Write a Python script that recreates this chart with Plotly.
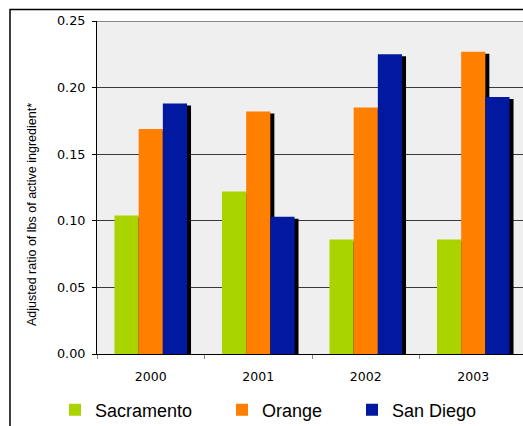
import plotly.graph_objects as go

# Adjusted pesticide-use ratio by county and year
years = ["2000", "2001", "2002", "2003"]
counties = ["Sacramento", "Orange", "San Diego"]
sacramento = [0.104, 0.122, 0.086, 0.086]
orange = [0.169, 0.182, 0.185, 0.227]
san_diego = [0.188, 0.103, 0.225, 0.193]
y_ticks = [0.00, 0.05, 0.10, 0.15, 0.20, 0.25]

colors = ["#AAD400", "#FF7F00", "#0019A0"]
series = [sacramento, orange, san_diego]
legends = ["legend", "legend2", "legend3"]

W, H = 523, 426
ML, MR, MT, MB = 97, 0, 21, 72
band_px = 107.5
plot_w = W - ML - MR
plot_h = H - MT - MB

bar_w = 0.225
offsets = [-0.3375, -0.1125, 0.1125]
shadow_dx = 4 / band_px
shadow_dy = 2 * 0.25 / plot_h

fig = go.Figure()
for name, vals, col, off, lg in zip(counties, series, colors, offsets, legends):
    # drop shadow behind each bar
    fig.add_trace(go.Bar(
        x=years, y=[v - shadow_dy for v in vals], width=bar_w,
        offset=off + shadow_dx, marker=dict(color="#000000", line=dict(width=0)),
        showlegend=False, hoverinfo="skip",
    ))
    fig.add_trace(go.Bar(
        x=years, y=vals, name=name, width=bar_w, offset=off,
        marker=dict(color=col, line=dict(width=0)), legend=lg,
    ))


def px_x(p):
    return (p - ML) / plot_w


def px_y(p):
    return (H - MB - p) / plot_h


legend_style = dict(
    orientation="h", yanchor="middle", xanchor="left",
    bgcolor="rgba(0,0,0,0)",
    font=dict(family="Liberation Sans, Arial, sans-serif", size=18, color="#000000"),
)
legend_x = [55, 222, 352]
legend_y = 410

fig.update_layout(
    width=W, height=H,
    margin=dict(l=ML, r=MR, t=MT, b=MB, pad=0, autoexpand=False),
    paper_bgcolor="#FFFFFF", plot_bgcolor="#EFEFEF",
    barmode="overlay",
    legend=dict(x=px_x(legend_x[0]), y=px_y(legend_y), **legend_style),
    legend2=dict(x=px_x(legend_x[1]), y=px_y(legend_y), **legend_style),
    legend3=dict(x=px_x(legend_x[2]), y=px_y(legend_y), **legend_style),
    xaxis=dict(
        type="category", categoryorder="array", categoryarray=years,
        range=[-0.5, -0.5 + plot_w / band_px],
        tickson="boundaries", ticks="outside", ticklen=4, tickcolor="#888888",
        showline=True, linecolor="#000000", linewidth=1, showgrid=False,
        tickfont=dict(family="DejaVu Sans, Verdana, sans-serif", size=12.5, color="#000000"),
        ticklabelstandoff=11,
    ),
    yaxis=dict(
        range=[0, 0.25], tickvals=y_ticks, tickformat=".2f",
        ticks="outside", ticklen=4, tickcolor="#000000",
        showline=True, linecolor="#000000", linewidth=1,
        showgrid=True, gridcolor="#3A3A3A", gridwidth=1, zeroline=False,
        tickfont=dict(family="DejaVu Sans, Verdana, sans-serif", size=12.8, color="#000000"),
        ticklabelstandoff=4,
    ),
    annotations=[dict(
        text="Adjusted ratio of lbs of active ingredient*",
        xref="paper", yref="paper", x=px_x(32), y=px_y(215),
        textangle=-90, showarrow=False, xanchor="center", yanchor="middle",
        font=dict(family="Liberation Sans, Arial, sans-serif", size=12.5, color="#000000"),
    )],
    shapes=[
        # outer chart frame
        dict(type="rect", xref="paper", yref="paper",
             x0=px_x(10), x1=px_x(W + 40), y0=px_y(9.5), y1=px_y(H + 40),
             line=dict(color="#000000", width=1.5), fillcolor="rgba(0,0,0,0)",
             layer="above"),
        # top edge of the plot area
        dict(type="line", xref="x domain", yref="y", x0=0, x1=1, y0=0.25, y1=0.25,
             line=dict(color="#888888", width=2), layer="above"),
    ],
)

fig.write_html("out.html")
